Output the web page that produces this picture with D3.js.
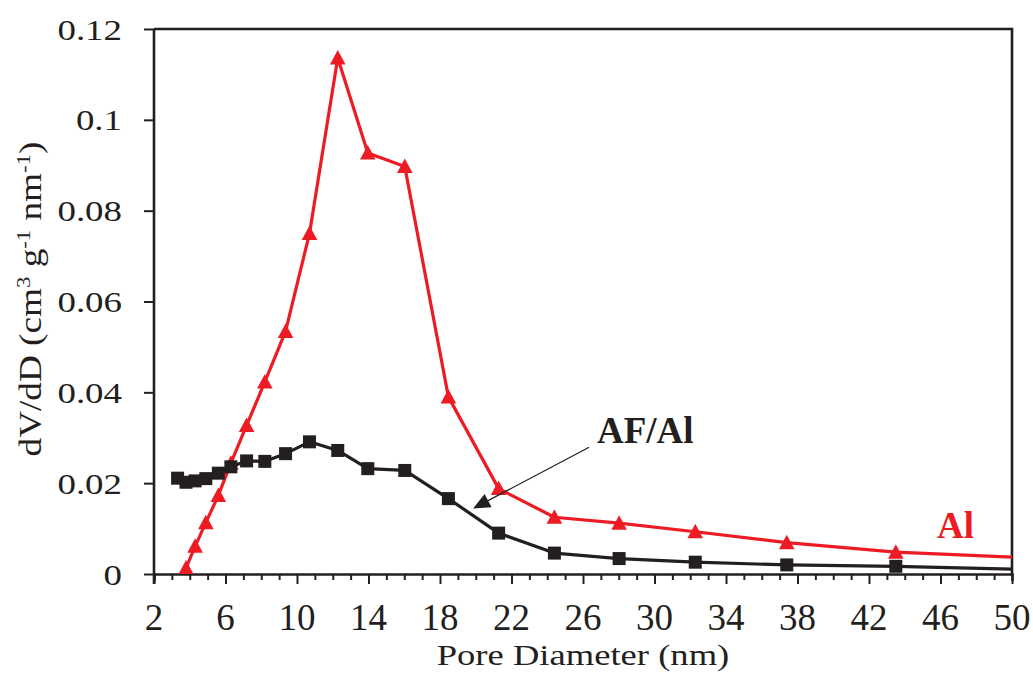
<!DOCTYPE html>
<html>
<head>
<meta charset="utf-8">
<script src="https://cdn.jsdelivr.net/npm/d3@7"></script>
<style>
  html, body { margin: 0; padding: 0; background: #fff; }
  svg { display: block; }
  text { font-family: "Liberation Serif", "Times New Roman", serif; fill: #231f20; }
</style>
</head>
<body>
<svg id="chart" width="1033" height="675"></svg>
<script>
// ---- data ----
const poreDiameter = [3.32, 3.79, 4.3, 4.9, 5.6, 6.3, 7.18, 8.2, 9.36, 10.7, 12.28, 13.96, 16.03, 18.47, 21.28, 24.4, 28.02, 32.28, 37.4, 43.5, 50.7];
const seriesAl =     [null, 0.0013, 0.0061, 0.0113, 0.0173, 0.0244, 0.0327, 0.0423, 0.0534, 0.0750, 0.1136, 0.0927, 0.0897, 0.0390, 0.0188, 0.0125, 0.0112, 0.0093, 0.0069, 0.0048, 0.0036];
const seriesAFAl =   [0.0211, 0.0202, 0.0205, 0.0210, 0.0222, 0.0236, 0.0249, 0.0248, 0.0265, 0.0291, 0.0272, 0.0232, 0.0228, 0.0166, 0.0090, 0.0046, 0.0034, 0.0026, 0.0020, 0.0017, 0.0010];
const xTickLabels = [2, 6, 10, 14, 18, 22, 26, 30, 34, 38, 42, 46, 50];
const yTickLabels = ["0", "0.02", "0.04", "0.06", "0.08", "0.1", "0.12"];
const yTickValues = [0, 0.02, 0.04, 0.06, 0.08, 0.10, 0.12];
const arrowFrom = [26.34, 0.0279];
const arrowTo = [19.85, 0.0144];

// ---- layout ----
const L = 154, R = 1012, T = 29, B = 574;
const ink = "#231f20", red = "#ed1c24";
const svg = d3.select("#chart");
const x = d3.scaleLinear().domain([2, 50]).range([L, R]);
const y = d3.scaleLinear().domain([0, 0.12]).range([B, T]);

svg.append("defs").append("clipPath").attr("id", "plotclip")
  .append("rect").attr("x", L).attr("y", T - 20).attr("width", R - L).attr("height", B - T + 20);

// frame (top and right borders)
svg.append("path").attr("d", `M${L},${T}H${R}V${B}`).attr("fill", "none").attr("stroke", ink).attr("stroke-width", 2.6);

// x axis with minor ticks
const xAxis = d3.axisBottom(x).tickValues(d3.range(2, 51, 1)).tickSize(7).tickFormat("");
const gx = svg.append("g").attr("transform", `translate(0,${B})`).call(xAxis);
gx.select(".domain").attr("stroke", ink).attr("stroke-width", 2.6);
gx.selectAll(".tick line").attr("stroke", ink).attr("stroke-width", 2)
  .attr("y2", d => ((d - 2) % 4 === 0) ? 10 : 6);
// x tick labels
svg.append("g").selectAll("text").data(xTickLabels).join("text")
  .attr("x", d => x(d)).attr("y", 630).attr("text-anchor", "middle")
  .attr("font-size", 37).text(d => d);

// y axis
const yAxis = d3.axisLeft(y).tickValues(yTickValues).tickSize(10).tickFormat("");
const gy = svg.append("g").attr("transform", `translate(${L},0)`).call(yAxis);
gy.select(".domain").attr("stroke", ink).attr("stroke-width", 2.6).attr("d", `M0,${T}V${B + 10}`);
gy.selectAll(".tick line").attr("stroke", ink).attr("stroke-width", 2);
svg.append("g").selectAll("text").data(yTickValues).join("text")
  .attr("transform", d => `translate(122,${y(d) + 10.5}) scale(1.23,1)`)
  .attr("text-anchor", "end").attr("font-size", 30)
  .text((d, i) => yTickLabels[i]);

// axis titles
svg.append("text").attr("transform", `translate(583,665) scale(1.22,1)`)
  .attr("text-anchor", "middle").attr("font-size", 30).text("Pore Diameter (nm)");

const yt = svg.append("text").attr("transform", `translate(41,299) rotate(-90) scale(1.2,1)`)
  .attr("text-anchor", "middle").attr("font-size", 31);
yt.append("tspan").text("dV/dD (cm");
yt.append("tspan").attr("font-size", 19).attr("dy", -11).text("3");
yt.append("tspan").attr("dy", 11).text(" g");
yt.append("tspan").attr("font-size", 19).attr("dy", -11).text("-1");
yt.append("tspan").attr("dy", 11).text(" nm");
yt.append("tspan").attr("font-size", 19).attr("dy", -11).text("-1");
yt.append("tspan").attr("dy", 11).text(")");

// series
const alPts = poreDiameter.map((d, i) => [d, seriesAl[i]]).filter(p => p[1] != null);
const afPts = poreDiameter.map((d, i) => [d, seriesAFAl[i]]).filter(p => p[1] != null);
const line = d3.line().x(p => x(p[0])).y(p => y(p[1]));
const plot = svg.append("g").attr("clip-path", "url(#plotclip)");

plot.append("path").datum(alPts).attr("d", line).attr("fill", "none")
  .attr("stroke", red).attr("stroke-width", 3.2).attr("stroke-linejoin", "round");
plot.append("g").selectAll("path").data(alPts.filter(p => p[0] <= 50)).join("path")
  .attr("transform", p => `translate(${x(p[0])},${y(p[1])})`)
  .attr("d", "M0,-8L7.8,6.5L-7.8,6.5Z").attr("fill", red);

plot.append("path").datum(afPts).attr("d", line).attr("fill", "none")
  .attr("stroke", ink).attr("stroke-width", 3.2).attr("stroke-linejoin", "round");
plot.append("g").selectAll("rect").data(afPts.filter(p => p[0] <= 50)).join("rect")
  .attr("x", p => x(p[0]) - 6.5).attr("y", p => y(p[1]) - 6.5)
  .attr("width", 13).attr("height", 13).attr("fill", ink);

// annotations
const ax1 = x(arrowFrom[0]), ay1 = y(arrowFrom[1]), ax2 = x(arrowTo[0]), ay2 = y(arrowTo[1]);
const ang = Math.atan2(ay2 - ay1, ax2 - ax1);
const hl = 17, hw = 7.5;
const bx = ax2 - hl * Math.cos(ang), by = ay2 - hl * Math.sin(ang);
svg.append("line").attr("x1", ax1).attr("y1", ay1).attr("x2", bx).attr("y2", by)
  .attr("stroke", ink).attr("stroke-width", 1.3);
svg.append("path").attr("d",
  `M${ax2},${ay2}L${bx + hw * Math.sin(ang)},${by - hw * Math.cos(ang)}L${bx - hw * Math.sin(ang)},${by + hw * Math.cos(ang)}Z`)
  .attr("fill", ink);

svg.append("text").attr("x", 597).attr("y", 443).attr("font-size", 37).attr("font-weight", "bold").text("AF/Al");
svg.append("text").attr("x", 937).attr("y", 538).attr("font-size", 37).attr("font-weight", "bold")
  .style("fill", red).text("Al");
</script>
</body>
</html>
